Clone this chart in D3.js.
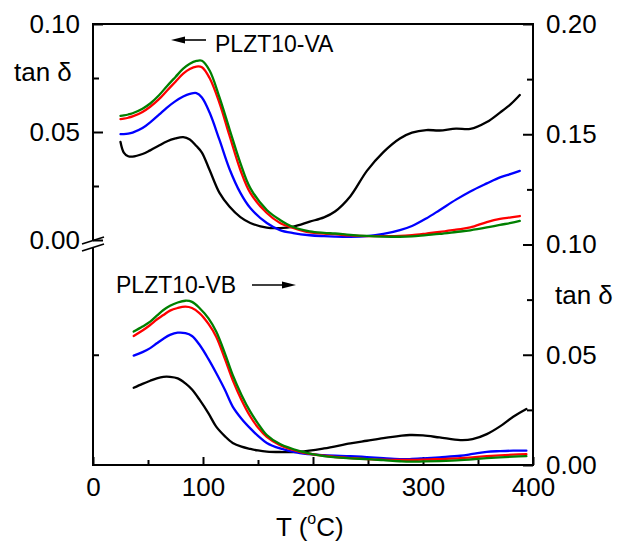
<!DOCTYPE html>
<html>
<head>
<meta charset="utf-8">
<script src="https://cdn.jsdelivr.net/npm/d3@7"></script>
<style>
  html, body { margin: 0; padding: 0; background: #fff; }
  svg { display: block; font-family: "Liberation Sans", Arial, sans-serif; }
</style>
</head>
<body>
<svg id="chart" width="618" height="547"></svg>
<script>
// ---------- DATA ----------
// Upper panel: PLZT10-VA (left axis, tan δ)
const vaT = [25, 28, 32, 36, 45, 52, 60, 67, 75, 82, 88, 94, 99, 106, 115, 124, 134, 143, 158, 170, 182, 197, 210, 220, 234, 249, 264, 279, 290, 303, 315, 330, 343, 358, 370, 380, 388];
const vaBlack = [0.0454, 0.0405, 0.0388, 0.0386, 0.0398, 0.0415, 0.0437, 0.0456, 0.0470, 0.0476, 0.0465, 0.0435, 0.0405, 0.0324, 0.0218, 0.0155, 0.0106, 0.0079, 0.0057, 0.0055, 0.0062, 0.0085, 0.0105, 0.0132, 0.0203, 0.0320, 0.0407, 0.0470, 0.0497, 0.0509, 0.0507, 0.0516, 0.0514, 0.0546, 0.0590, 0.0630, 0.0671];
const vaBlue  = [0.0490, 0.0490, 0.0492, 0.0497, 0.0518, 0.0545, 0.0580, 0.0612, 0.0643, 0.0664, 0.0676, 0.0680, 0.0660, 0.0590, 0.0463, 0.0330, 0.0218, 0.0148, 0.0079, 0.0046, 0.0032, 0.0022, 0.0018, 0.0016, 0.0015, 0.0018, 0.0028, 0.0046, 0.0065, 0.0100, 0.0138, 0.0187, 0.0225, 0.0262, 0.0290, 0.0306, 0.0320];
const vaRed   = [0.0560, 0.0562, 0.0566, 0.0572, 0.0593, 0.0617, 0.0652, 0.0690, 0.0733, 0.0770, 0.0792, 0.0803, 0.0800, 0.0750, 0.0634, 0.0485, 0.0324, 0.0218, 0.0125, 0.0079, 0.0056, 0.0035, 0.0030, 0.0027, 0.0021, 0.0018, 0.0018, 0.0019, 0.0023, 0.0030, 0.0037, 0.0048, 0.0058, 0.0083, 0.0098, 0.0105, 0.0111];
const vaGreen = [0.0575, 0.0577, 0.0581, 0.0587, 0.0608, 0.0632, 0.0670, 0.0711, 0.0755, 0.0793, 0.0816, 0.0829, 0.0830, 0.0785, 0.0660, 0.0515, 0.0356, 0.0240, 0.0139, 0.0093, 0.0060, 0.0040, 0.0033, 0.0030, 0.0024, 0.0019, 0.0016, 0.0015, 0.0017, 0.0023, 0.0028, 0.0037, 0.0045, 0.0058, 0.0070, 0.0079, 0.0088];

// Lower panel: PLZT10-VB (right axis, tan δ)
const vbT = [37, 45, 52, 58, 64, 70, 77, 84, 90, 97, 105, 112, 120, 127, 135, 143, 150, 158, 170, 188, 210, 234, 249, 264, 279, 288, 300, 315, 334, 345, 358, 370, 382, 394];
const vbBlack = [0.0350, 0.0368, 0.0382, 0.0393, 0.0400, 0.0400, 0.0393, 0.0370, 0.0342, 0.0295, 0.0234, 0.0174, 0.0130, 0.0100, 0.0083, 0.0073, 0.0066, 0.0061, 0.0059, 0.0060, 0.0075, 0.0098, 0.0110, 0.0122, 0.0132, 0.0136, 0.0134, 0.0125, 0.0113, 0.0117, 0.0140, 0.0175, 0.0219, 0.0254];
const vbBlue  = [0.0496, 0.0512, 0.0530, 0.0552, 0.0573, 0.0590, 0.0600, 0.0598, 0.0585, 0.0544, 0.0480, 0.0417, 0.0340, 0.0265, 0.0210, 0.0166, 0.0132, 0.0100, 0.0075, 0.0054, 0.0045, 0.0040, 0.0036, 0.0031, 0.0027, 0.0027, 0.0030, 0.0035, 0.0042, 0.0050, 0.0060, 0.0063, 0.0065, 0.0065];
const vbRed   = [0.0585, 0.0610, 0.0635, 0.0660, 0.0680, 0.0700, 0.0712, 0.0718, 0.0712, 0.0688, 0.0640, 0.0582, 0.0480, 0.0385, 0.0295, 0.0220, 0.0170, 0.0128, 0.0090, 0.0060, 0.0042, 0.0031, 0.0027, 0.0024, 0.0023, 0.0023, 0.0024, 0.0027, 0.0031, 0.0035, 0.0040, 0.0044, 0.0047, 0.0049];
const vbGreen = [0.0605, 0.0628, 0.0650, 0.0677, 0.0703, 0.0722, 0.0737, 0.0745, 0.0740, 0.0711, 0.0665, 0.0605, 0.0505, 0.0408, 0.0318, 0.0242, 0.0188, 0.0136, 0.0095, 0.0063, 0.0040, 0.0030, 0.0027, 0.0022, 0.0017, 0.0015, 0.0016, 0.0018, 0.0022, 0.0026, 0.0031, 0.0035, 0.0038, 0.0040];

// Ticks
const xMajor = [0, 100, 200, 300, 400];
const xMinor = [50, 150, 250, 350];
const yLMajor = [0, 0.05, 0.10];
const yLMinor = [0.025, 0.075];
const yRMajor = [0, 0.05, 0.10, 0.15, 0.20];
const yRMinor = [0.025, 0.075, 0.125, 0.175];
const yLLowerTicks = [0.05];

// ---------- LAYOUT ----------
const svg = d3.select("#chart");
const x = d3.scaleLinear().domain([0, 400]).range([93, 533]);
const yL = d3.scaleLinear().domain([0, 0.10]).range([240, 24]);
const yR = d3.scaleLinear().domain([0, 0.20]).range([465, 24]);

const FS = 26;
const fmt = d3.format(".2f");

function styleAxis(g) {
  g.select(".domain").remove();
  g.selectAll(".tick line").attr("stroke", "#000").attr("stroke-width", 2);
  g.selectAll(".tick text").attr("font-size", FS).attr("fill", "#000")
    .attr("font-family", "'Liberation Sans', Arial, sans-serif");
}

// bottom
svg.append("g").attr("transform", `translate(0,${yR(0)})`)
  .call(d3.axisBottom(x).tickValues(xMajor).tickSize(-8).tickPadding(13).tickFormat(d3.format("d")))
  .call(styleAxis);
svg.append("g").attr("transform", `translate(0,${yR(0)})`)
  .call(d3.axisBottom(x).tickValues(xMinor).tickSize(-5).tickFormat(""))
  .call(styleAxis);

// left (upper segment)
svg.append("g").attr("transform", `translate(${x(0)},0)`)
  .call(d3.axisLeft(yL).tickValues(yLMajor).tickSize(-10).tickPadding(13).tickFormat(fmt))
  .call(styleAxis);
svg.append("g").attr("transform", `translate(${x(0)},0)`)
  .call(d3.axisLeft(yL).tickValues(yLMinor).tickSize(-6).tickFormat(""))
  .call(styleAxis);
// left (lower segment)
svg.append("g").attr("transform", `translate(${x(0)},0)`)
  .call(d3.axisLeft(yR).tickValues(yLLowerTicks).tickSize(-6).tickFormat(""))
  .call(styleAxis);

// right
svg.append("g").attr("transform", `translate(${x(400)},0)`)
  .call(d3.axisRight(yR).tickValues(yRMajor).tickSize(-10).tickPadding(13).tickFormat(fmt))
  .call(styleAxis);
svg.append("g").attr("transform", `translate(${x(400)},0)`)
  .call(d3.axisRight(yR).tickValues(yRMinor).tickSize(-6).tickFormat(""))
  .call(styleAxis);

// frame lines
const y0 = yL(0);
const frame = svg.append("g").attr("stroke", "#000").attr("stroke-width", 2).attr("fill", "none");
frame.append("line").attr("x1", x(0) - 1).attr("x2", x(400) + 1).attr("y1", yR(0)).attr("y2", yR(0));
frame.append("line").attr("x1", x(0) - 1).attr("x2", x(400) + 1).attr("y1", yR(0.2)).attr("y2", yR(0.2));
frame.append("line").attr("x1", x(400)).attr("x2", x(400)).attr("y1", yR(0.2)).attr("y2", yR(0));
frame.append("line").attr("x1", x(0)).attr("x2", x(0)).attr("y1", yL(0.10)).attr("y2", y0 + 0.5);
frame.append("line").attr("x1", x(0)).attr("x2", x(0)).attr("y1", y0 + 7.5).attr("y2", yR(0));
// break marks
frame.append("line").attr("x1", x(0) - 11).attr("y1", y0 + 4).attr("x2", x(0) + 11).attr("y2", y0 - 3).attr("stroke-width", 1.8);
frame.append("line").attr("x1", x(0) - 11).attr("y1", y0 + 11).attr("x2", x(0) + 11).attr("y2", y0 + 4).attr("stroke-width", 1.8);

// ---------- CURVES ----------
const colors = { black: "#000000", blue: "#0000ff", red: "#ff0000", green: "#008000" };
function drawCurve(T, V, yScale, color) {
  const line = d3.line().x(d => x(d[0])).y(d => yScale(d[1])).curve(d3.curveCatmullRom.alpha(0.5));
  svg.append("path").datum(T.map((t, i) => [t, V[i]]))
    .attr("d", line).attr("fill", "none").attr("stroke", color)
    .attr("stroke-width", 2.3).attr("stroke-linejoin", "round").attr("stroke-linecap", "round");
}
drawCurve(vaT, vaBlack, yL, colors.black);
drawCurve(vaT, vaBlue, yL, colors.blue);
drawCurve(vaT, vaRed, yL, colors.red);
drawCurve(vaT, vaGreen, yL, colors.green);
drawCurve(vbT, vbBlack, yR, colors.black);
drawCurve(vbT, vbBlue, yR, colors.blue);
drawCurve(vbT, vbRed, yR, colors.red);
drawCurve(vbT, vbGreen, yR, colors.green);

// ---------- TEXT ----------
const txt = svg.append("g").attr("fill", "#000");
txt.append("text").attr("x", 14).attr("y", 81).attr("font-size", FS).text("tan δ");
txt.append("text").attr("x", 555).attr("y", 304).attr("font-size", FS).text("tan δ");

txt.append("text").attr("x", 215).attr("y", 52).attr("font-size", 23).text("PLZT10-VA");
txt.append("text").attr("x", 116).attr("y", 293).attr("font-size", 23).text("PLZT10-VB");
const arr = svg.append("g");
arr.append("line").attr("x1", 182).attr("x2", 206).attr("y1", 40).attr("y2", 40).attr("stroke", "#000").attr("stroke-width", 1.6);
arr.append("path").attr("d", "M171,40 L185,36.5 L185,43.5 Z").attr("fill", "#000");
arr.append("line").attr("x1", 252).attr("x2", 285).attr("y1", 285).attr("y2", 285).attr("stroke", "#000").attr("stroke-width", 1.6);
arr.append("path").attr("d", "M296,285 L282,281.5 L282,288.5 Z").attr("fill", "#000");

const xl = txt.append("text").attr("x", 276).attr("y", 536).attr("font-size", FS);
xl.append("tspan").text("T (");
xl.append("tspan").attr("font-size", 16).attr("dy", -12).text("o");
xl.append("tspan").attr("dy", 12).text("C)");
</script>
</body>
</html>
